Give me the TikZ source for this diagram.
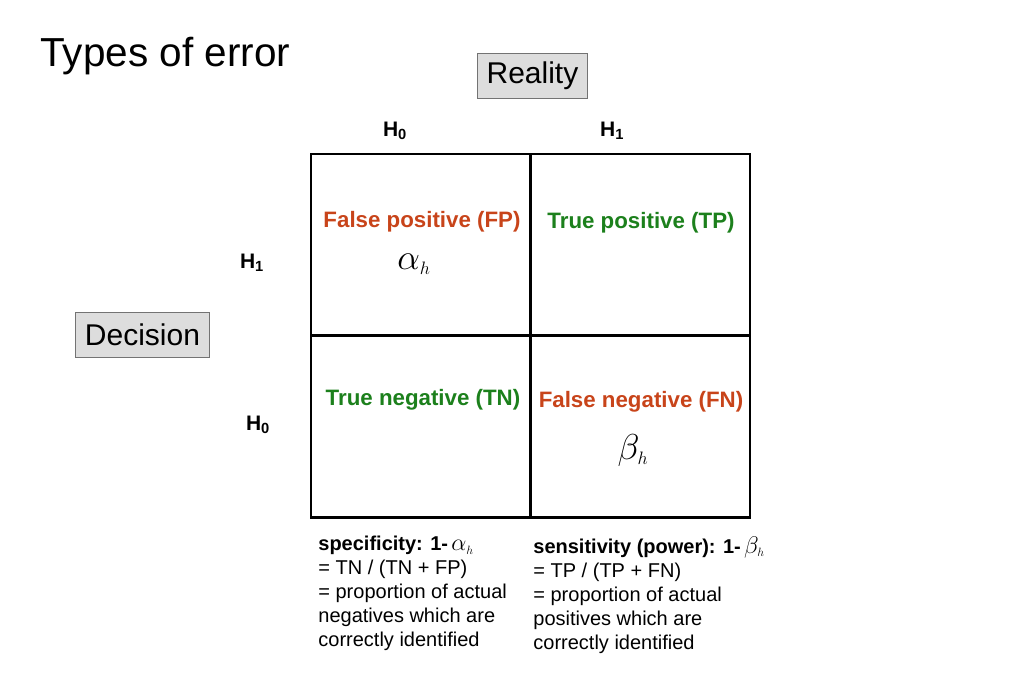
\RequirePackage{fix-cm}
\documentclass[tikz,border=0pt]{standalone}
\usepackage{fontspec}
\setmainfont{Liberation Sans}
\usetikzlibrary{positioning}
\definecolor{falsered}{RGB}{200,68,26}
\definecolor{truegreen}{RGB}{28,128,28}
\definecolor{boxgray}{RGB}{221,221,221}

\begin{document}
\begin{tikzpicture}[x=1pt, y=-1pt, thick,
    cell/.style={draw, line width=2.6pt, minimum width=219pt, minimum height=182pt, inner sep=0pt},
    caption/.style={draw=black!55, line width=1pt, fill=boxgray, font=\fontsize{30}{34}\selectfont, minimum height=45pt, inner xsep=9pt},
    hyp/.style={font=\fontsize{21}{24}\selectfont\bfseries},
    kind/.style={font=\fontsize{22.3}{24}\selectfont\bfseries, inner sep=0pt},
    rate/.style={font=\fontsize{36}{40}\selectfont},
    note/.style={font=\fontsize{20}{24}\selectfont, align=left, anchor=north west, inner sep=0pt}]

\useasboundingbox (0,0) rectangle (1023,682);

\node[font=\fontsize{40.5}{44}\selectfont, anchor=west, inner sep=0pt] (title) at (40,56) {Types of error};
\node[caption] (reality) at (532.5,76) {Reality};
\node[caption] (decision) at (142.5,335) {Decision};

% the four cells
\node[cell] (FP) at (420.5,245) {};
\node[cell] (TP) at (640.5,245) {};
\node[cell] (TN) at (420.5,426.5) {};
\node[cell] (FN) at (640.5,426.5) {};

\node[hyp] (R0) at (395,131) {H\textsubscript{0}};
\node[hyp] (R1) at (612,131) {H\textsubscript{1}};
\node[hyp] (D1) at (252,263) {H\textsubscript{1}};
\node[hyp] (D0) at (258,425) {H\textsubscript{0}};

\node[kind, text=falsered] (FPtext) at (422,222) {False positive (FP)};
\node[kind, text=truegreen] (TPtext) at (641,223) {True positive (TP)};
\node[kind, text=truegreen] (TNtext) at (423,400) {True negative (TN)};
\node[kind, text=falsered] (FNtext) at (641,402) {False negative (FN)};
\node[rate] (alpha) at (414,264) {$\alpha_{\scriptscriptstyle h}$};
\node[rate] (beta) at (633,450) {$\beta_{\scriptscriptstyle h}$};

\node[note] (spec) at (318,536) {\textbf{specificity: 1-}\,{\fontsize{24}{24}\selectfont$\alpha_{\scriptscriptstyle h}$}\\
  = TN / (TN + FP)\\ = proportion of actual\\ negatives which are\\ correctly identified};
\node[note] (sens) at (533,536) {\textbf{sensitivity (power): 1-}\,{\fontsize{24}{24}\selectfont$\beta_{\scriptscriptstyle h}$}\\
  = TP / (TP + FN)\\ = proportion of actual\\ positives which are\\ correctly identified};
\end{tikzpicture}
\end{document}
